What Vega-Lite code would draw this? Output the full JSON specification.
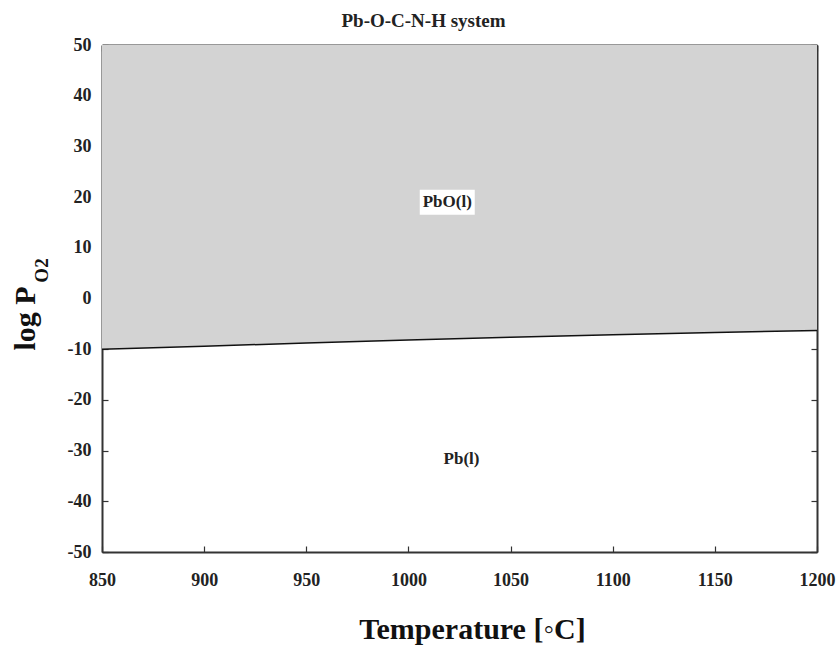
{
  "$schema": "https://vega.github.io/schema/vega-lite/v6.json",
  "autosize": "none",
  "width": 715,
  "height": 507,
  "padding": {"left": 102, "top": 45, "right": 21, "bottom": 98},
  "background": "white",
  "title": {
    "text": "Pb-O-C-N-H system",
    "font": "Liberation Serif",
    "fontSize": 19,
    "fontWeight": "bold",
    "color": "#222",
    "anchor": "middle",
    "dx": -36,
    "offset": 5
  },
  "config": {
    "view": {"stroke": null},
    "font": "Liberation Serif",
    "axis": {
      "grid": false,
      "domainColor": "#333",
      "domainWidth": 2,
      "tickColor": "#333",
      "tickWidth": 1.2,
      "tickSize": -6,
      "labelFont": "Liberation Serif",
      "labelFontWeight": "bold",
      "labelFontSize": 18,
      "labelColor": "#222",
      "titleFont": "Liberation Serif",
      "titleFontWeight": "bold",
      "titleColor": "#111"
    }
  },
  "datasets": {
    "boundary": [
      {"T": 850, "logP": -10.0},
      {"T": 900, "logP": -9.4},
      {"T": 950, "logP": -8.8},
      {"T": 1000, "logP": -8.2},
      {"T": 1050, "logP": -7.65},
      {"T": 1100, "logP": -7.15},
      {"T": 1150, "logP": -6.7},
      {"T": 1200, "logP": -6.3}
    ],
    "phases": [
      {"T": 1019, "logP": 19.0, "phase": "PbO(l)"},
      {"T": 1026, "logP": -31.7, "phase": "Pb(l)"}
    ]
  },
  "resolve": {"axis": {"x": "independent", "y": "independent"}},
  "layer": [
    {
      "data": {"name": "boundary"},
      "mark": {"type": "area", "color": "#d3d3d3", "opacity": 1},
      "encoding": {
        "x": {
          "field": "T",
          "type": "quantitative",
          "scale": {"domain": [850, 1200], "nice": false, "zero": false},
          "axis": {
            "orient": "bottom",
            "values": [850, 900, 950, 1000, 1050, 1100, 1150, 1200],
            "labelExpr": "'' + datum.value",
            "labelFont": "Liberation Serif",
            "labelFontWeight": "bold",
            "labelFontSize": 18,
            "labelPadding": 25,
            "labelFlush": false,
            "title": "Temperature [◦C]",
            "titleFontSize": 30,
            "titleBaseline": "alphabetic",
            "titleAlign": "center",
            "titleX": 370,
            "titleY": 86
          }
        },
        "y": {
          "field": "logP",
          "type": "quantitative",
          "scale": {"domain": [-50, 50], "nice": false, "zero": false},
          "axis": {
            "orient": "left",
            "values": [-50, -40, -30, -20, -10, 0, 10, 20, 30, 40, 50],
            "labelExpr": "'' + datum.value",
            "labelFont": "Liberation Serif",
            "labelFontWeight": "bold",
            "labelFontSize": 18,
            "labelPadding": 17,
            "labelFlush": false,
            "title": "log P",
            "titleFontSize": 30,
            "titleAngle": -90,
            "titleAlign": "center",
            "titleBaseline": "alphabetic",
            "titleX": -68,
            "titleY": 273
          }
        },
        "y2": {"datum": 50}
      }
    },
    {
      "data": {"name": "boundary"},
      "mark": {"type": "line", "color": "#111", "strokeWidth": 1.5},
      "encoding": {
        "x": {
          "field": "T",
          "type": "quantitative",
          "axis": {
            "orient": "top",
            "values": [850, 900, 950, 1000, 1050, 1100, 1150, 1200],
            "labels": false,
            "title": null
          }
        },
        "y": {
          "field": "logP",
          "type": "quantitative",
          "axis": {
            "orient": "right",
            "values": [-50, -40, -30, -20, -10, 0, 10, 20, 30, 40, 50],
            "labels": false,
            "title": null
          }
        }
      }
    },
    {
      "data": {"name": "phases"},
      "transform": [{"filter": "datum.phase === 'PbO(l)'"}],
      "mark": {
        "type": "point",
        "shape": "M-1,-0.455H1V0.455H-1Z",
        "size": 3025,
        "filled": true,
        "color": "white",
        "opacity": 1
      },
      "encoding": {
        "x": {"field": "T", "type": "quantitative", "axis": null},
        "y": {"field": "logP", "type": "quantitative", "axis": null}
      }
    },
    {
      "data": {"name": "phases"},
      "mark": {
        "type": "text",
        "font": "Liberation Serif",
        "fontWeight": "bold",
        "fontSize": 17,
        "color": "#222",
        "align": "center",
        "baseline": "middle"
      },
      "encoding": {
        "x": {"field": "T", "type": "quantitative", "axis": null},
        "y": {
          "field": "logP",
          "type": "quantitative",
          "axis": {
            "orient": "left",
            "labels": false,
            "ticks": false,
            "domain": false,
            "title": "O2",
            "titleFont": "Liberation Serif",
            "titleFontSize": 19,
            "titleAngle": -90,
            "titleAlign": "center",
            "titleBaseline": "alphabetic",
            "titleX": -55,
            "titleY": 225
          }
        },
        "text": {"field": "phase"}
      }
    }
  ]
}
